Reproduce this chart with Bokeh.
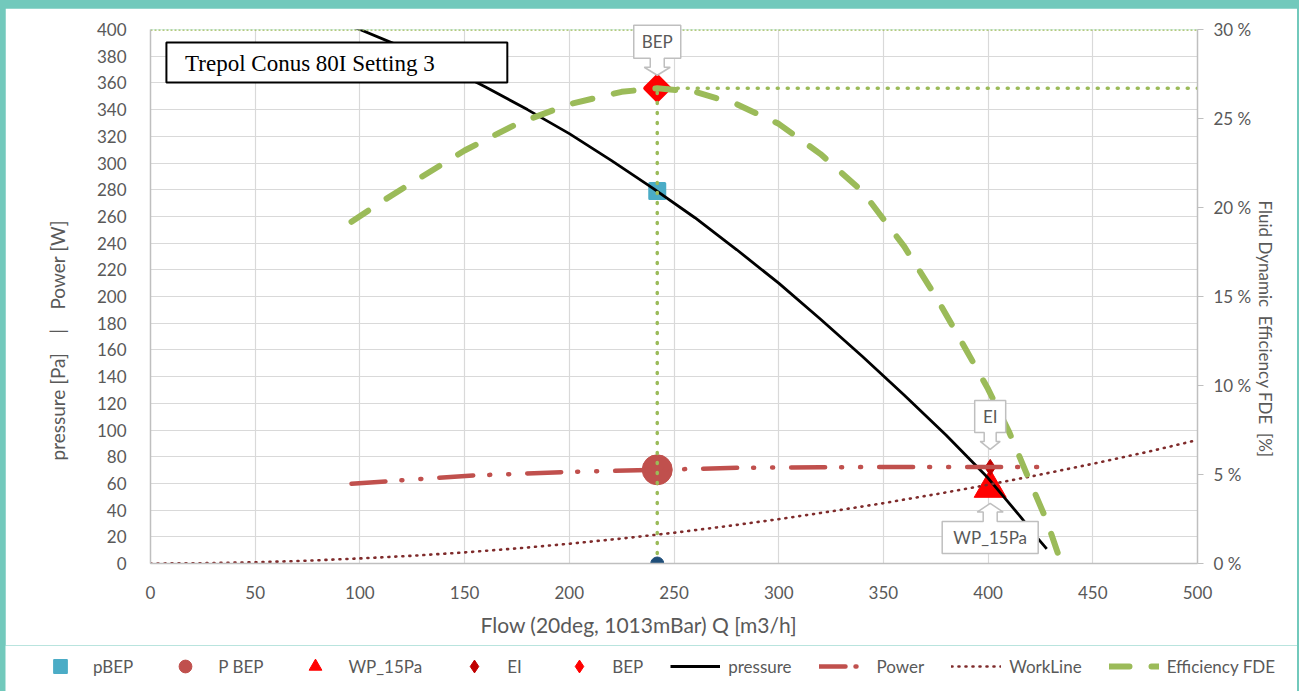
import math
from bokeh.plotting import figure
from bokeh.models import (Range1d, LinearAxis, FixedTicker, Legend, LegendItem,
                          Label, BoxAnnotation, Title)
from bokeh.embed import file_html
from bokeh.resources import INLINE
from bokeh.core.properties import value

# ---------------- data ----------------
pressure_q = [96, 100, 120, 140, 160, 180, 200, 220, 240, 260, 280, 300, 320, 340, 360, 380, 400, 408, 416, 422, 428]
pressure_pa = [402, 400, 387, 373, 357, 340, 322, 302, 281, 259, 235, 210, 183, 155, 126, 96, 64, 49, 34, 22, 11]

power_q = [96, 125, 154, 196, 242, 282, 320, 360, 400, 424]
power_w = [59.7, 62.9, 65.9, 68.4, 70.2, 71.7, 72.1, 72.3, 72.3, 72.2]

workline_q = [0, 25, 50, 75, 100, 125, 150, 175, 200, 225, 250, 275, 300, 325, 350, 375, 400, 425, 450, 475, 500]
workline_pa = [0, 0.2, 0.9, 2.1, 3.8, 5.8, 8.3, 11.3, 14.8, 18.7, 23.0, 27.9, 33.2, 39.0, 45.2, 51.9, 59.0, 66.6, 74.7, 83.2, 92.5]

eff_q = [96, 110, 125, 150, 175, 200, 225, 242, 260, 280, 300, 320, 340, 360, 375, 390, 400, 410, 420, 428, 435]
eff_pct = [19.2, 20.3, 21.4, 23.2, 24.7, 25.8, 26.5, 26.7, 26.5, 25.8, 24.7, 23.0, 20.9, 17.8, 15.0, 11.9, 9.8, 7.4, 4.6, 2.4, 0.0]

bep_q = [242]
bep_eff = [26.7]
pbep_pa = [279]
pbep_power = [70.2]
wp_q = [401]
wp_pa = [56.5]
ei_pa = [72]
q_max = [500]
top_pa = [400]

x_ticks = list(range(0, 501, 50))
y_ticks = list(range(0, 401, 20))
eff_ticks = [0, 5, 10, 15, 20, 25, 30]
eff_tick_labels = ["0 %", "5 %", "10 %", "15 %", "20 %", "25 %", "30 %"]

title_text = "Trepol Conus 80I Setting 3"
x_title = "Flow (20deg, 1013mBar) Q [m3/h]"
NB = "\u00a0"
y_title = "pressure [Pa]" + NB * 4 + "|" + NB * 4 + "Power [W]"
y2_title = "Fluid Dynamic" + NB * 2 + "Efficiency FDE" + NB * 2 + "[%]"

# ---------------- styles ----------------
FONT = "Lato"
GREY_TXT = "#595959"
C_PBEP = "#4BACC6"
C_POWER = "#C0504D"
C_WP = "#FF0000"
C_EI = "#C00000"
C_WORK = "#7F2B2B"
C_EFF = "#9BBB59"

W = 1292
FW, FH = 1047, 534
BL, BT = 145, 21
MAIN_H = 637
LEG_H = 46

p = figure(frame_width=FW, frame_height=FH, output_backend="svg", toolbar_location=None,
           x_range=Range1d(0, 500), y_range=Range1d(0, 400),
           min_border_left=BL, min_border_right=W - BL - FW,
           min_border_top=BT, min_border_bottom=MAIN_H - BT - FH)
p.margin = (8, 2, 0, 5)
p.extra_y_ranges = {"eff": Range1d(0, 30)}
p.outline_line_color = None
p.background_fill_color = "white"
p.border_fill_color = "white"

QPX = 500 / FW
PPX = 400 / FH

for ax in [p.xaxis[0], p.yaxis[0]]:
    ax.axis_line_color = "#BFBFBF"
    ax.axis_line_width = 1.5
    ax.major_tick_line_color = None
    ax.minor_tick_line_color = None
    ax.major_label_text_font = FONT
    ax.major_label_text_font_size = "17px"
    ax.major_label_text_color = GREY_TXT

p.xaxis.ticker = FixedTicker(ticks=x_ticks)
p.yaxis.ticker = FixedTicker(ticks=y_ticks)
p.xaxis.major_label_standoff = 16
p.yaxis.major_label_standoff = 18

rax = LinearAxis(y_range_name="eff", ticker=FixedTicker(ticks=eff_ticks))
rax.major_label_overrides = dict(zip(eff_ticks, eff_tick_labels))
rax.axis_line_color = "#BFBFBF"
rax.axis_line_width = 1.5
rax.major_tick_line_color = "#BFBFBF"
rax.major_tick_out = 6
rax.major_tick_in = 0
rax.minor_tick_line_color = None
rax.major_label_text_font = FONT
rax.major_label_text_font_size = "17px"
rax.major_label_text_color = GREY_TXT
rax.major_label_standoff = 10
p.add_layout(rax, "right")

p.xgrid.ticker = FixedTicker(ticks=x_ticks)
p.ygrid.ticker = FixedTicker(ticks=y_ticks)
p.grid.grid_line_color = "#D9D9D9"
p.grid.grid_line_width = 1.2

# axis titles placed as side-panel titles so they can be shifted like the reference
p.add_layout(Title(text=y_title, align="left", offset=103, standoff=50,
                   text_font=FONT, text_font_size="19px",
                   text_font_style="normal", text_color=GREY_TXT), "left")
p.add_layout(Title(text=y2_title, align="left", offset=171, standoff=0,
                   text_font=FONT, text_font_size="17px",
                   text_font_style="normal", text_color=GREY_TXT), "right")
p.add_layout(Title(text=x_title, align="left", offset=330, standoff=17,
                   text_font=FONT, text_font_size="21px",
                   text_font_style="normal", text_color=GREY_TXT), "below")

# ---------------- markers (drawn first) ----------------
r_pbep = p.scatter(bep_q, pbep_pa, marker="square", size=15, fill_color=C_PBEP,
                   line_color=C_PBEP, line_join="round", line_width=3)
r_pp = p.scatter(bep_q, pbep_power, marker="circle", size=30, fill_color=C_POWER,
                 line_color=C_POWER)
r_wp = p.scatter(wp_q, wp_pa, marker="triangle", size=32, fill_color=C_WP,
                 line_color=C_WP, line_join="round")
r_ei = p.scatter(wp_q, ei_pa, marker="diamond", size=16, fill_color=C_EI,
                 line_color=C_EI)
r_bep = p.scatter(bep_q, bep_eff, y_range_name="eff", marker="square", angle=math.pi / 4,
                  size=17, fill_color=C_WP, line_color=C_WP, line_join="round", line_width=4)

# ---------------- lines ----------------
r_press = p.line(pressure_q, pressure_pa, line_color="black", line_width=2.8)
r_power = p.line(power_q, power_w, line_color=C_POWER, line_width=4.5,
                 line_dash="34 16 1 18 1 18", line_cap="round")
r_work = p.line(workline_q, workline_pa, line_color=C_WORK, line_width=2.6,
                line_dash="1 6", line_cap="round")
r_eff = p.line(eff_q, eff_pct, y_range_name="eff", line_color=C_EFF, line_width=6,
               line_dash="20 22", line_cap="round")

p.line(bep_q + bep_q, [0] + bep_eff, y_range_name="eff", line_color=C_EFF,
       line_width=3.5, line_dash="1 9", line_cap="round")
p.line(bep_q + q_max, bep_eff + bep_eff, y_range_name="eff", line_color=C_EFF,
       line_width=3.5, line_dash="1 9", line_cap="round")
p.line([0] + q_max, top_pa + top_pa, line_color=C_EFF, line_width=2.4, line_dash="2 2")
p.scatter(bep_q, [0], marker="circle", size=13, fill_color="#1F4E79", line_color="#1F4E79")

# ---------------- title box ----------------
p.add_layout(BoxAnnotation(left=7.6, right=170.4, top=390.3, bottom=360.3,
                           fill_color="white", fill_alpha=1, line_color="black",
                           line_alpha=1, line_width=2))
p.add_layout(Label(x=16.5, y=374.5, text=title_text, text_baseline="middle",
                   text_font="Liberation Serif", text_font_size="23px",
                   text_color="black"))

# ---------------- callouts ----------------
def callout(xq, yp, hw, near, far, neck, tip, stem_hw, head_hw):
    pts = [(-hw, near), (-hw, far), (hw, far), (hw, near), (stem_hw, near),
           (stem_hw, neck), (head_hw, neck), (0, tip), (-head_hw, neck),
           (-stem_hw, neck), (-stem_hw, near)]
    xs = [xq + dx * QPX for dx, dy in pts]
    ys = [yp + dy * PPX for dx, dy in pts]
    return xs, ys, yp + (near + far) / 2 * PPX

bep_pa = bep_eff[0] / 30 * 400
callouts = [
    ("BEP", bep_q[0], bep_pa, 23.5, 30, 63, 21, 13, 7, 13),
    ("EI", wp_q[0], ei_pa[0], 15.5, 35, 67, 26, 18, 6, 10),
    ("WP_15Pa", wp_q[0], wp_pa[0], 48, -33.4, -65.4, -24, -15.4, 7, 13),
]
for txt, xq, yp, hw, near, far, neck, tip, shw, hhw in callouts:
    xs, ys, yc = callout(xq, yp, hw, near, far, neck, tip, shw, hhw)
    r = p.patch(xs, ys, fill_color="white", line_color="#BFBFBF", line_width=1.5)
    r.level = "annotation"
    t = p.text([xq], [yc], text=[txt], text_align="center", text_baseline="middle",
               text_font=value(FONT), text_font_size="17px", text_color=GREY_TXT)
    t.level = "annotation"

# ---------------- legend strip (second root, same series, view range outside data) ----------------
leg = figure(width=W, height=LEG_H, output_backend="svg", toolbar_location=None,
             x_range=Range1d(1000, 1001), y_range=Range1d(1000, 1001), min_border=0,
             x_axis_type=None, y_axis_type=None)
leg.margin = (0, 2, 0, 5)
leg.outline_line_color = None
leg.grid.visible = False
leg.background_fill_color = "white"
leg.border_fill_color = "white"

lg_pbep = leg.scatter(bep_q, pbep_pa, marker="square", size=12, fill_color=C_PBEP,
                      line_color=C_PBEP, line_join="round", line_width=2)
lg_pp = leg.scatter(bep_q, pbep_power, marker="circle", size=14, fill_color=C_POWER,
                    line_color=C_POWER)
lg_wp = leg.scatter(wp_q, wp_pa, marker="triangle", size=14, fill_color=C_WP, line_color=C_WP)
lg_ei = leg.scatter(wp_q, ei_pa, marker="diamond", size=12, fill_color=C_EI, line_color=C_EI)
lg_bep = leg.scatter(bep_q, bep_eff, marker="diamond", size=18, fill_color=C_WP, line_color=C_WP)
lg_press = leg.line(pressure_q, pressure_pa, line_color="black", line_width=3)
lg_power = leg.line(power_q, power_w, line_color=C_POWER, line_width=4.5,
                    line_dash="26 10 1 20", line_cap="round")
lg_work = leg.line(workline_q, workline_pa, line_color=C_WORK, line_width=2.6,
                   line_dash="1 6", line_cap="round")
lg_eff = leg.line(eff_q, eff_pct, line_color=C_EFF, line_width=6, line_dash="20 22",
                  line_cap="round")

legend = Legend(items=[
    LegendItem(label="pBEP", renderers=[lg_pbep]),
    LegendItem(label="P BEP", renderers=[lg_pp]),
    LegendItem(label="WP_15Pa", renderers=[lg_wp]),
    LegendItem(label="EI", renderers=[lg_ei]),
    LegendItem(label="BEP", renderers=[lg_bep]),
    LegendItem(label="pressure", renderers=[lg_press]),
    LegendItem(label="Power", renderers=[lg_power]),
    LegendItem(label="WorkLine", renderers=[lg_work]),
    LegendItem(label="Efficiency FDE", renderers=[lg_eff]),
], orientation="horizontal", location=(30, 9))
legend.label_text_font = FONT
legend.label_text_font_size = "17px"
legend.label_text_color = GREY_TXT
legend.glyph_width = 50
legend.glyph_height = 32
legend.label_standoff = 8
legend.spacing = 27
legend.border_line_color = None
legend.background_fill_alpha = 0
legend.margin = 0
legend.padding = 0
leg.add_layout(legend)

html = file_html([p, leg], INLINE)
html = html.replace("<head>", "<head><style>html,body{margin:0 !important;padding:0 !important;"
                    "background:#72C9BC;overflow:hidden;}</style>", 1)
open("out.html", "w").write(html)
